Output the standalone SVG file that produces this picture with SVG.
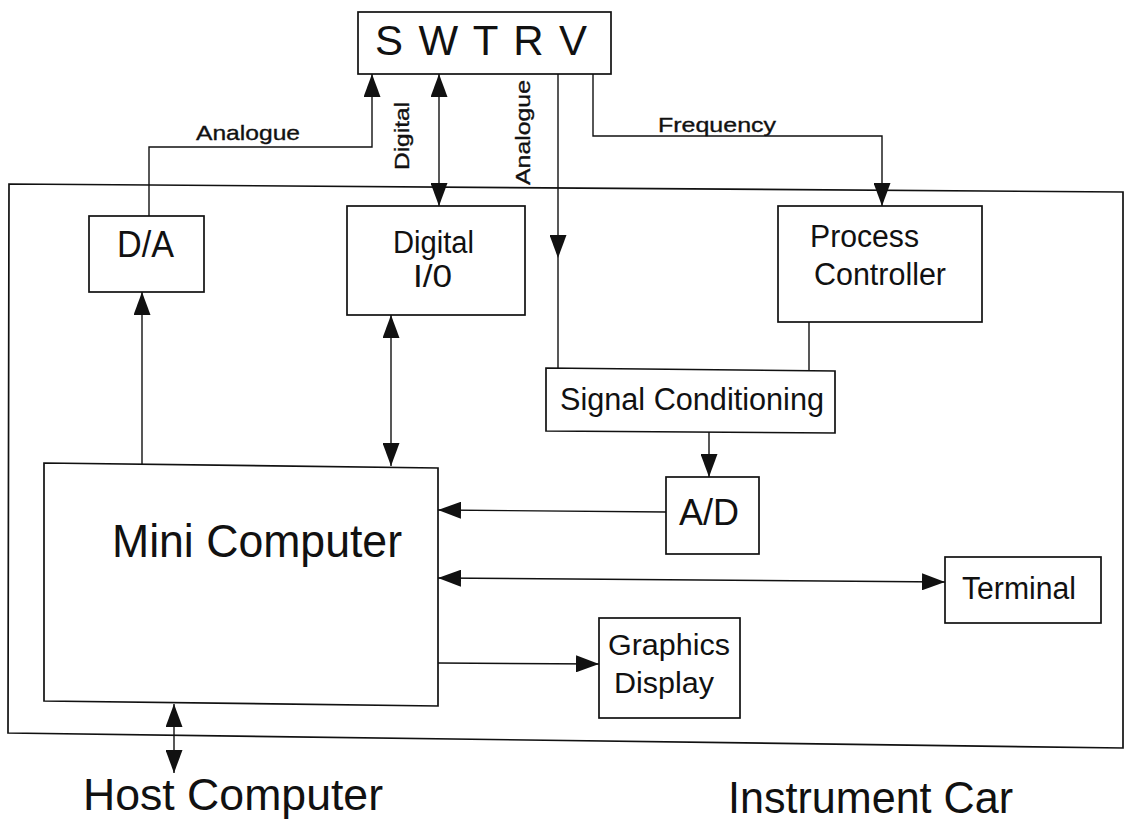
<svg xmlns="http://www.w3.org/2000/svg" width="1125" height="823" viewBox="0 0 1125 823">
<style>
.box{fill:none;stroke:#111;stroke-width:1.7}
.ln{fill:none;stroke:#111;stroke-width:1.4}
text{font-family:"Liberation Sans",Arial,Helvetica,sans-serif;fill:#111}
.lbl{font-size:21px;stroke:#111;stroke-width:0.35}
.nd{font-size:31px}
.big{font-size:45px}
</style>
<defs>
<marker id="ah" viewBox="0 0 23 17" refX="23" refY="8.5" markerWidth="23" markerHeight="17" markerUnits="userSpaceOnUse" orient="auto-start-reverse">
<path d="M0,0 L23,8.5 L0,17 z" fill="#111"/>
</marker>
</defs>
<rect width="1125" height="823" fill="#fff"/>

<g id="instrument-car">
<polygon class="box" points="9,184 1123,192 1123,748 8,733"/>
<text class="big" x="728" y="813" textLength="285" lengthAdjust="spacingAndGlyphs">Instrument Car</text>
</g>

<g id="swtrv">
<rect class="box" x="358" y="12" width="253" height="62"/>
<text x="375" y="55" font-size="42" textLength="212" lengthAdjust="spacing">S W T R V</text>
</g>

<g id="da">
<rect class="box" x="89" y="216" width="115" height="76"/>
<text x="117" y="257" font-size="37" textLength="57" lengthAdjust="spacingAndGlyphs">D/A</text>
</g>

<g id="digital-io">
<rect class="box" x="347" y="206" width="178" height="109"/>
<text class="nd" x="393" y="253" textLength="81" lengthAdjust="spacingAndGlyphs">Digital</text>
<text class="nd" x="413" y="287" textLength="39" lengthAdjust="spacingAndGlyphs">I/0</text>
</g>

<g id="process-controller">
<rect class="box" x="778" y="206" width="204" height="116"/>
<text class="nd" x="810" y="247" textLength="109" lengthAdjust="spacingAndGlyphs">Process</text>
<text class="nd" x="814" y="285" textLength="132" lengthAdjust="spacingAndGlyphs">Controller</text>
</g>

<g id="signal-conditioning">
<polygon class="box" points="546,368 835,371 835,433 546,431"/>
<text class="nd" x="560" y="410" textLength="264" lengthAdjust="spacingAndGlyphs">Signal Conditioning</text>
</g>

<g id="ad">
<rect class="box" x="666" y="477" width="93" height="77"/>
<text x="679" y="525" font-size="37" textLength="60" lengthAdjust="spacingAndGlyphs">A/D</text>
</g>

<g id="mini-computer">
<polygon class="box" points="44,463 438,468 438,706 44,701"/>
<text x="112" y="557" font-size="47" textLength="290" lengthAdjust="spacingAndGlyphs">Mini Computer</text>
</g>

<g id="terminal">
<rect class="box" x="945" y="557" width="156" height="66"/>
<text class="nd" x="962" y="599" textLength="114" lengthAdjust="spacingAndGlyphs">Terminal</text>
</g>

<g id="graphics-display">
<rect class="box" x="599" y="618" width="141" height="100"/>
<text x="608" y="655" font-size="29" textLength="122" lengthAdjust="spacingAndGlyphs">Graphics</text>
<text x="614" y="693" font-size="29" textLength="100" lengthAdjust="spacingAndGlyphs">Display</text>
</g>

<g id="host-computer">
<text class="big" x="83" y="810" textLength="300" lengthAdjust="spacingAndGlyphs">Host Computer</text>
</g>

<g id="connectors">
<polyline class="ln" points="149,216 149,147 372,147 372,74" marker-end="url(#ah)"/>
<text class="lbl" x="196" y="140" textLength="104" lengthAdjust="spacingAndGlyphs">Analogue</text>
<line class="ln" x1="439" y1="74" x2="439" y2="206" marker-start="url(#ah)" marker-end="url(#ah)"/>
<text class="lbl" transform="translate(409,170) rotate(-90)" textLength="68" lengthAdjust="spacingAndGlyphs">Digital</text>
<line class="ln" x1="558" y1="74" x2="558" y2="258" marker-end="url(#ah)"/>
<line class="ln" x1="558" y1="258" x2="558" y2="369"/>
<text class="lbl" transform="translate(530,185) rotate(-90)" textLength="105" lengthAdjust="spacingAndGlyphs">Analogue</text>
<polyline class="ln" points="593,74 593,136 882,136 882,206" marker-end="url(#ah)"/>
<text class="lbl" x="658" y="132" textLength="118" lengthAdjust="spacingAndGlyphs">Frequency</text>
<line class="ln" x1="809" y1="322" x2="809" y2="370"/>
<line class="ln" x1="709" y1="432" x2="709" y2="477" marker-end="url(#ah)"/>
<line class="ln" x1="666" y1="512" x2="438" y2="510" marker-end="url(#ah)"/>
<line class="ln" x1="438" y1="578" x2="945" y2="582" marker-start="url(#ah)" marker-end="url(#ah)"/>
<line class="ln" x1="438" y1="663" x2="599" y2="664" marker-end="url(#ah)"/>
<line class="ln" x1="142" y1="464" x2="142" y2="292" marker-end="url(#ah)"/>
<line class="ln" x1="391" y1="315" x2="391" y2="466" marker-start="url(#ah)" marker-end="url(#ah)"/>
<line class="ln" x1="174" y1="704" x2="174" y2="773" marker-start="url(#ah)" marker-end="url(#ah)"/>
</g>
</svg>
